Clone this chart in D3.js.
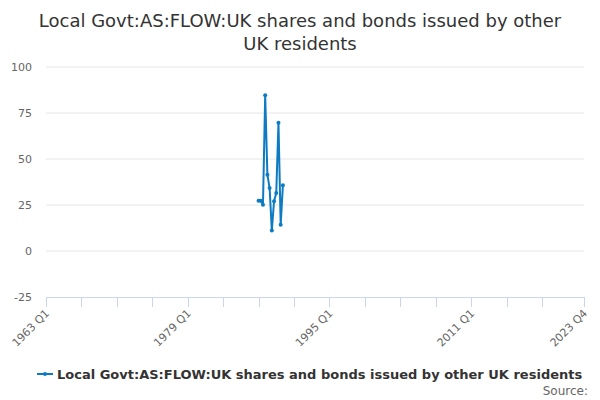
<!DOCTYPE html>
<html>
<head>
<meta charset="utf-8">
<script src="https://cdn.jsdelivr.net/npm/d3@7"></script>
<style>
  body { margin: 0; background: #fff; }
  svg text { font-family: "DejaVu Sans", sans-serif; }
</style>
</head>
<body>
<svg class="chart" width="600" height="400"></svg>
<script>
// data
const seriesName = "Local Govt:AS:FLOW:UK shares and bonds issued by other UK residents";
const firstYear = 1963, lastYear = 2023;
const dataQuarters = ["1987 Q1","1987 Q2","1987 Q3","1987 Q4","1988 Q1","1988 Q2",
                      "1988 Q3","1988 Q4","1989 Q1","1989 Q2","1989 Q3","1989 Q4"];
const dataValues = [27.3, 27.3, 25.1, 84.6, 41.5, 34.2, 11.2, 27, 31.5, 69.7, 14.3, 35.7];
const yTicks = [-25, 0, 25, 50, 75, 100];
const xLabels = ["1963 Q1", "1979 Q1", "1995 Q1", "2011 Q1", "2023 Q4"];

// every quarter on the axis
const quarters = [];
for (let y = firstYear; y <= lastYear; y++) {
    for (let q = 1; q <= 4; q++) quarters.push(y + " Q" + q);
}

drawChart();

function drawChart() {
    const margin = {top: 67, right: 16, bottom: 103, left: 46},
    width = 600 - margin.left - margin.right,
    height = 400 - margin.top - margin.bottom;

    const svg = d3.select(".chart");

    // title
    const title = svg.append("text")
        .attr("x", 300)
        .attr("text-anchor", "middle")
        .style("font-size", "18px")
        .style("fill", "#333333");
    title.append("tspan").attr("x", 300).attr("y", 27).text("Local Govt:AS:FLOW:UK shares and bonds issued by other");
    title.append("tspan").attr("x", 300).attr("y", 50).text("UK residents");

    const g = svg.append("g")
        .attr("transform", `translate(${margin.left},${margin.top})`);

    const x = d3.scalePoint()
        .domain(quarters)
        .range([0, width]);

    const y = d3.scaleLinear()
        .domain([-25, 100])
        .range([height, 0]);

    // grid
    g.selectAll(".grid")
        .data(yTicks.filter(d => d > -25))
        .enter().append("line")
        .attr("x1", 0)
        .attr("x2", width)
        .attr("y1", d => y(d))
        .attr("y2", d => y(d))
        .style("stroke", "#e6e6e6")
        .style("stroke-width", 1);

    // Y axis labels
    g.selectAll(".ylab")
        .data(yTicks)
        .enter().append("text")
        .attr("x", -14)
        .attr("y", d => y(d) + 4)
        .attr("text-anchor", "end")
        .style("font-size", "11px")
        .style("fill", "#666666")
        .text(d => d);

    // X axis, a tick every 4 years
    const tickQuarters = quarters.filter((d, i) => i % 16 === 0 && !d.startsWith("2023"));
    tickQuarters.push("2023 Q4");

    g.append("line")
        .attr("x1", 0).attr("x2", width)
        .attr("y1", height + 0.5).attr("y2", height + 0.5)
        .style("stroke", "#ccd6eb");

    g.selectAll(".xtick")
        .data(tickQuarters)
        .enter().append("line")
        .attr("x1", d => Math.round(x(d)) + 0.5)
        .attr("x2", d => Math.round(x(d)) + 0.5)
        .attr("y1", height)
        .attr("y2", height + 10)
        .style("stroke", "#ccd6eb");

    g.selectAll(".xlab")
        .data(xLabels)
        .enter().append("text")
        .attr("transform", d => `translate(${x(d) + 4},${height + 17}) rotate(-45)`)
        .attr("text-anchor", "end")
        .style("font-size", "11px")
        .style("fill", "#666666")
        .text(d => d);

    // series
    const pts = dataQuarters.map((q, i) => ({q: q, v: dataValues[i]}));
    const color = "#0c7bc2";

    g.append("path")
        .datum(pts)
        .attr("fill", "none")
        .attr("stroke", color)
        .attr("stroke-width", 2)
        .attr("stroke-linejoin", "round")
        .attr("d", d3.line().x(d => x(d.q)).y(d => y(d.v)));

    g.selectAll(".dot")
        .data(pts)
        .enter().append("circle")
        .attr("r", 2)
        .attr("cx", d => x(d.q))
        .attr("cy", d => y(d.v))
        .style("fill", color);

    // legend
    const legend = svg.append("g").attr("transform", "translate(37,374)");
    legend.append("line")
        .attr("x1", 0).attr("x2", 16)
        .attr("y1", 0).attr("y2", 0)
        .attr("stroke", color).attr("stroke-width", 2);
    legend.append("circle")
        .attr("cx", 8).attr("cy", 0).attr("r", 2)
        .style("fill", color);
    legend.append("text")
        .attr("x", 20)
        .attr("y", 4.5)
        .style("font-size", "13px")
        .style("font-weight", "bold")
        .style("fill", "#333333")
        .text(seriesName);

    svg.append("text")
        .attr("x", 588)
        .attr("y", 395)
        .attr("text-anchor", "end")
        .style("font-size", "12px")
        .style("fill", "#666666")
        .text("Source:");
}
</script>
</body>
</html>
